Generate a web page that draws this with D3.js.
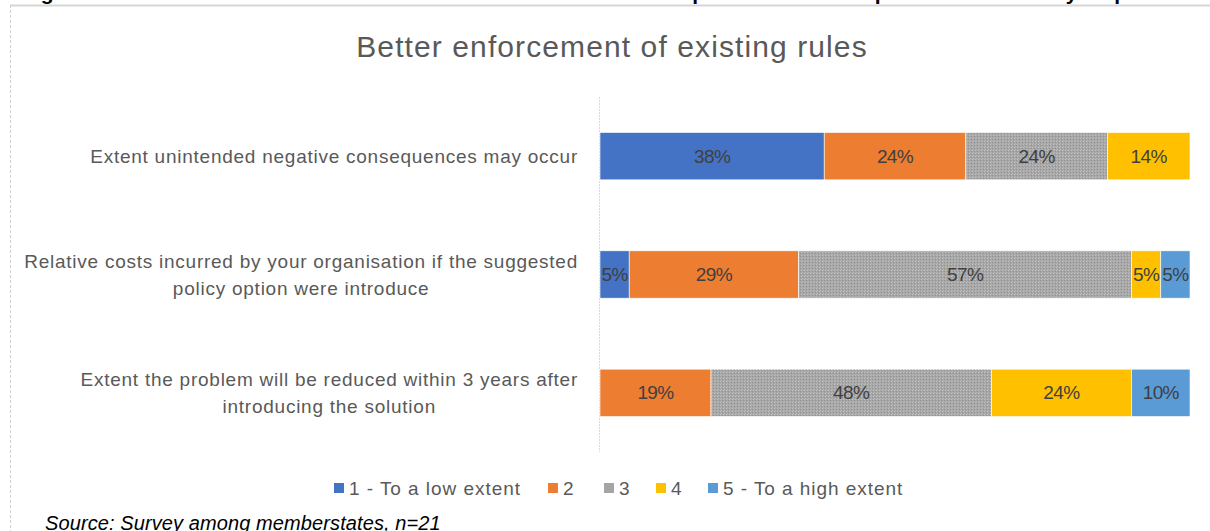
<!DOCTYPE html>
<html>
<head>
<meta charset="utf-8">
<script src="https://cdn.jsdelivr.net/npm/d3@7"></script>
<style>
  html, body { margin: 0; padding: 0; background: #fff; }
  svg { display: block; }
  text { font-family: "Liberation Sans", Arial, sans-serif; }
</style>
</head>
<body>
<svg id="chart" width="1210" height="531"></svg>
<script>
// Survey answers per question, in percent of respondents (n=21)
const categories = [
  "Extent unintended negative consequences may occur",
  "Relative costs incurred by your organisation if the suggested policy option were introduce",
  "Extent the problem will be reduced within 3 years after introducing the solution"
];
const categoryLines = [
  ["Extent unintended negative consequences may occur"],
  ["Relative costs incurred by your organisation if the suggested", "policy option were introduce"],
  ["Extent the problem will be reduced within 3 years after", "introducing the solution"]
];
const seriesNames = ["1 - To a low extent", "2", "3", "4", "5 - To a high extent"];
const seriesKeys = ["s1", "s2", "s3", "s4", "s5"];
const s1 = [38, 5, 0];
const s2 = [24, 29, 19];
const s3 = [24, 57, 48];
const s4 = [14, 5, 24];
const s5 = [0, 5, 10];
const seriesColors = ["#4472c4", "#ed7d31", "url(#grayTexture)", "#ffc000", "#5b9bd5"];
const legendColors = ["#4472c4", "#ed7d31", "#a5a5a5", "#ffc000", "#5b9bd5"];

const chartTitle = "Better enforcement of existing rules";
const figureHeading = "Figure 3: Stakeholders' assessment of the possible impacts: Policy option";
const sourceNote = "Source: Survey among memberstates, n=21";

const rows = categories.map((c, i) => ({
  category: c,
  s1: s1[i], s2: s2[i], s3: s3[i], s4: s4[i], s5: s5[i]
}));

const svg = d3.select("#chart");

// fine grey stipple used for the middle answer
const defs = svg.append("defs");
const pat = defs.append("pattern")
  .attr("id", "grayTexture")
  .attr("width", 3).attr("height", 3)
  .attr("patternUnits", "userSpaceOnUse");
pat.append("rect").attr("width", 3).attr("height", 3).attr("fill", "#a6a6a6");
pat.append("rect").attr("x", 0).attr("y", 0).attr("width", 1).attr("height", 1).attr("fill", "#c2c2c2");
pat.append("rect").attr("x", 2).attr("y", 1).attr("width", 1).attr("height", 1).attr("fill", "#929292");
pat.append("rect").attr("x", 1).attr("y", 2).attr("width", 1).attr("height", 1).attr("fill", "#b6b6b6");

// figure heading, running off the top edge
svg.append("text")
  .attr("x", 10).attr("y", 0)
  .attr("font-size", 21).attr("font-weight", "bold")
  .attr("fill", "#000")
  .attr("textLength", 1180).attr("lengthAdjust", "spacing")
  .text(figureHeading);

// chart area frame
svg.append("line")
  .attr("x1", 10).attr("x2", 1210).attr("y1", 5.5).attr("y2", 5.5)
  .attr("stroke", "#d6d6d6").attr("stroke-width", 2);
svg.append("line")
  .attr("x1", 10.5).attr("x2", 10.5).attr("y1", 5).attr("y2", 531)
  .attr("stroke", "#d0d0d0").attr("stroke-width", 1)
  .attr("stroke-dasharray", "3,2");

// title
svg.append("text")
  .attr("x", 612).attr("y", 57)
  .attr("text-anchor", "middle")
  .attr("font-size", 30)
  .attr("letter-spacing", 1.1)
  .attr("fill", "#595959")
  .text(chartTitle);

const x = d3.scaleLinear().domain([0, 1]).range([600, 1190]);
const y = d3.scaleBand().domain(categories).range([97, 452])
  .paddingInner(0.6).paddingOuter(0.3);

const stacked = d3.stack().keys(seriesKeys).offset(d3.stackOffsetExpand)(rows);

// category axis line
svg.append("line")
  .attr("x1", 599.5).attr("x2", 599.5).attr("y1", 97).attr("y2", 452)
  .attr("stroke", "#d9d9d9").attr("stroke-dasharray", "2,1");

const groups = svg.append("g").selectAll("g")
  .data(stacked).join("g")
  .attr("fill", (d, i) => seriesColors[i]);

groups.selectAll("rect")
  .data(d => d.map(v => ({ v, key: d.key })).filter(d => d.v[1] - d.v[0] > 0))
  .join("rect")
  .attr("x", d => x(d.v[0]))
  .attr("y", d => y(d.v.data.category))
  .attr("width", d => x(d.v[1]) - x(d.v[0]))
  .attr("height", y.bandwidth())
  .attr("stroke", "#fff").attr("stroke-width", 0.6);

// value labels
groups.selectAll("text")
  .data(d => d.map(v => ({ v, key: d.key })).filter(d => d.v.data[d.key] > 0))
  .join("text")
  .attr("x", d => (x(d.v[0]) + x(d.v[1])) / 2)
  .attr("y", d => y(d.v.data.category) + y.bandwidth() / 2)
  .attr("dy", "0.35em")
  .attr("text-anchor", "middle")
  .attr("font-size", 19)
  .attr("fill", "#404040")
  .attr("letter-spacing", -0.6)
  .text(d => d.v.data[d.key] + "%");

// category labels: first line right-aligned to the axis, following lines centred under it
const catG = svg.append("g");
const labelRight = 578;
const lineHeight = 27;
categories.forEach((c, i) => {
  const lines = categoryLines[i];
  const cy = y(c) + y.bandwidth() / 2;
  const first = catG.append("text")
    .attr("x", labelRight)
    .attr("y", cy - (lines.length - 1) / 2 * lineHeight)
    .attr("dy", "0.35em")
    .attr("text-anchor", "end")
    .attr("font-size", 19)
    .attr("letter-spacing", 0.75)
    .attr("fill", "#595959")
    .text(lines[0]);
  const w = first.node().getComputedTextLength();
  lines.slice(1).forEach((ln, j) => {
    catG.append("text")
      .attr("x", labelRight - w / 2)
      .attr("y", cy + (j + 1 - (lines.length - 1) / 2) * lineHeight)
      .attr("dy", "0.35em")
      .attr("text-anchor", "middle")
      .attr("font-size", 19)
      .attr("letter-spacing", 0.75)
      .attr("fill", "#595959")
      .text(ln);
  });
});

// legend
const legendX = [334, 548, 604, 656, 708];
const legend = svg.append("g");
seriesNames.forEach((n, i) => {
  legend.append("rect")
    .attr("x", legendX[i]).attr("y", 483)
    .attr("width", 10).attr("height", 10)
    .attr("fill", legendColors[i]);
  legend.append("text")
    .attr("x", legendX[i] + 15).attr("y", 488)
    .attr("dy", "0.35em")
    .attr("font-size", 19)
    .attr("letter-spacing", 0.95)
    .attr("fill", "#595959")
    .text(n);
});

// source note
svg.append("text")
  .attr("x", 45).attr("y", 530)
  .attr("font-size", 20).attr("font-style", "italic")
  .attr("letter-spacing", 0.1)
  .attr("fill", "#000")
  .text(sourceNote);
</script>
</body>
</html>
